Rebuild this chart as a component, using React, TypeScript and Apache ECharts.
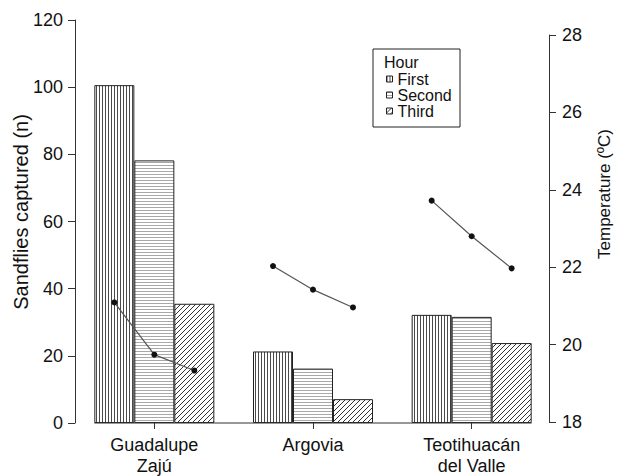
import React, { useEffect, useRef } from "react";
import * as echarts from "echarts";

const sites = ["Guadalupe\nZajú", "Argovia", "Teotihuacán\ndel Valle"];
const hours = ["First", "Second", "Third"];
const firstCounts = [100.6, 21.3, 32.2];
const secondCounts = [78.2, 16.2, 31.6];
const thirdCounts = [35.5, 7.1, 23.8];
const guadalupeTemp = [21.09, 19.74, 19.33];
const argoviaTemp = [22.03, 21.42, 20.96];
const teotihuacanTemp = [23.72, 22.8, 21.97];
const countAxis = { min: 0, max: 120, interval: 20 };
const tempAxis = { min: 18, max: 28, interval: 2 };

function makePattern(kind: string) {
  const c = document.createElement("canvas");
  let w = 3, h = 3;
  if (kind === "diag") { w = 5; h = 5; }
  c.width = w; c.height = h;
  const ctx = c.getContext("2d")!;
  ctx.fillStyle = "#ffffff";
  ctx.fillRect(0, 0, w, h);
  if (kind === "vert") {
    ctx.fillStyle = "#4a4a4a";
    ctx.fillRect(0, 0, 1, h);
  } else if (kind === "horz") {
    ctx.fillStyle = "#a8a8a8";
    ctx.fillRect(0, 0, w, 1);
  } else {
    ctx.strokeStyle = "#333333";
    ctx.lineWidth = 1;
    ctx.beginPath();
    ctx.moveTo(-1, h + 1); ctx.lineTo(w + 1, -1);
    ctx.moveTo(-1, 1); ctx.lineTo(1, -1);
    ctx.moveTo(w - 1, h + 1); ctx.lineTo(w + 1, h - 1);
    ctx.stroke();
  }
  return { image: c, imageWidth: w, imageHeight: h, repeat: "repeat" };
}

export default function App() {
  const ref = useRef<HTMLDivElement>(null);
  useEffect(() => {
    const chart = echarts.init(ref.current!, null, { renderer: "svg" });
    const L = 75, R = 72;
    const W = 623 - L - R;
    const catW = W / sites.length;
    const barW = 40;
    const off = barW / catW;
    const font = "'Liberation Sans', Arial, sans-serif";
    const patterns = [makePattern("vert"), makePattern("horz"), makePattern("diag")];
    const counts = [firstCounts, secondCounts, thirdCounts];
    const temps = [guadalupeTemp, argoviaTemp, teotihuacanTemp];

    const barSeries = hours.map((h, k) => ({
      name: h,
      type: "bar",
      xAxisIndex: 0,
      yAxisIndex: 0,
      barWidth: barW,
      barGap: "0%",
      data: counts[k],
      itemStyle: { color: patterns[k], borderColor: "#222", borderWidth: 1 },
    }));
    const lineSeries = temps.map((t, i) => ({
      name: "temp" + i,
      type: "line",
      xAxisIndex: 1,
      yAxisIndex: 1,
      data: t.map((v, j) => [i + (j - 1) * off, v]),
      symbol: "circle",
      symbolSize: 6,
      lineStyle: { color: "#555", width: 1.2 },
      itemStyle: { color: "#111" },
      z: 10,
    }));

    const baseGraphics: any[] = [
      {
        type: "rect",
        id: "lbox",
        shape: { x: 373, y: 49, width: 87, height: 78 },
        style: { fill: "none", stroke: "#222", lineWidth: 1 },
      },
      {
        type: "text",
        id: "lhour",
        x: 384,
        y: 62,
        style: { text: "Hour", fontSize: 16, fontFamily: font, fill: "#111", verticalAlign: "middle" },
      },
      {
        type: "text",
        id: "ltitle",
        x: 21,
        y: 212,
        rotation: Math.PI / 2,
        style: { text: "Sandflies captured (n)", fontSize: 20, fontFamily: font, fill: "#111", align: "center", verticalAlign: "middle" },
      },
      {
        type: "text",
        id: "rtitle",
        x: 604,
        y: 194,
        rotation: Math.PI / 2,
        style: { text: "Temperature (ºC)", fontSize: 17, fontFamily: font, fill: "#111", align: "center", verticalAlign: "middle" },
      },
    ];

    chart.setOption({
      animation: false,
      textStyle: { fontFamily: font, color: "#111" },
      grid: [
        { left: L, right: R, top: 20, bottom: 53 },
        { left: L, right: R, top: 35, bottom: 54 },
      ],
      xAxis: [
        {
          type: "category",
          gridIndex: 0,
          data: sites,
          axisLine: { show: false },
          axisTick: { show: true, alignWithLabel: true, length: 6, lineStyle: { color: "#333" } },
          axisLabel: { fontSize: 18, lineHeight: 21, margin: 11, color: "#111", fontFamily: font },
        },
        { type: "value", gridIndex: 1, min: -0.5, max: 2.5, show: false },
      ],
      yAxis: [
        {
          type: "value",
          gridIndex: 0,
          ...countAxis,
          splitLine: { show: false },
          axisLine: { show: true, onZero: false, lineStyle: { color: "#333" } },
          axisTick: { show: true, length: 7, lineStyle: { color: "#333" } },
          axisLabel: { fontSize: 18, margin: 12, color: "#111", fontFamily: font },
        },
        {
          type: "value",
          gridIndex: 1,
          position: "right",
          offset: -2,
          ...tempAxis,
          splitLine: { show: false },
          axisLine: { show: true, onZero: false, lineStyle: { color: "#333" } },
          axisTick: { show: true, length: 7, lineStyle: { color: "#333" } },
          axisLabel: { fontSize: 18, margin: 13, color: "#111", fontFamily: font },
        },
      ],
      legend: {
        data: hours,
        orient: "vertical",
        left: 381,
        top: 66,
        itemWidth: 6,
        itemHeight: 6,
        itemGap: 0,
        icon: "rect",
        selectedMode: false,
        itemStyle: { borderWidth: 1, borderColor: "#222" },
        textStyle: { fontSize: 16, color: "#111", fontFamily: font },
      },
      series: [...barSeries, ...lineSeries],
      graphic: baseGraphics,
    });

    const p0 = chart.convertToPixel({ xAxisIndex: 0 }, 0) as number;
    const p2 = chart.convertToPixel({ xAxisIndex: 0 }, sites.length - 1) as number;
    const y0 = chart.convertToPixel({ yAxisIndex: 0 }, 0) as number;
    const half = (barW * hours.length) / 2;
    chart.setOption({
      graphic: [
        ...baseGraphics,
        {
          type: "line",
          id: "baseline",
          shape: { x1: p0 - half, y1: y0, x2: p2 + half, y2: y0 },
          style: { stroke: "#333", lineWidth: 1 },
          z: 5,
        },
      ],
    });

    return () => chart.dispose();
  }, []);
  return <div ref={ref} style={{ width: 623, height: 476, position: "absolute", left: 0, top: 0 }} />;
}
